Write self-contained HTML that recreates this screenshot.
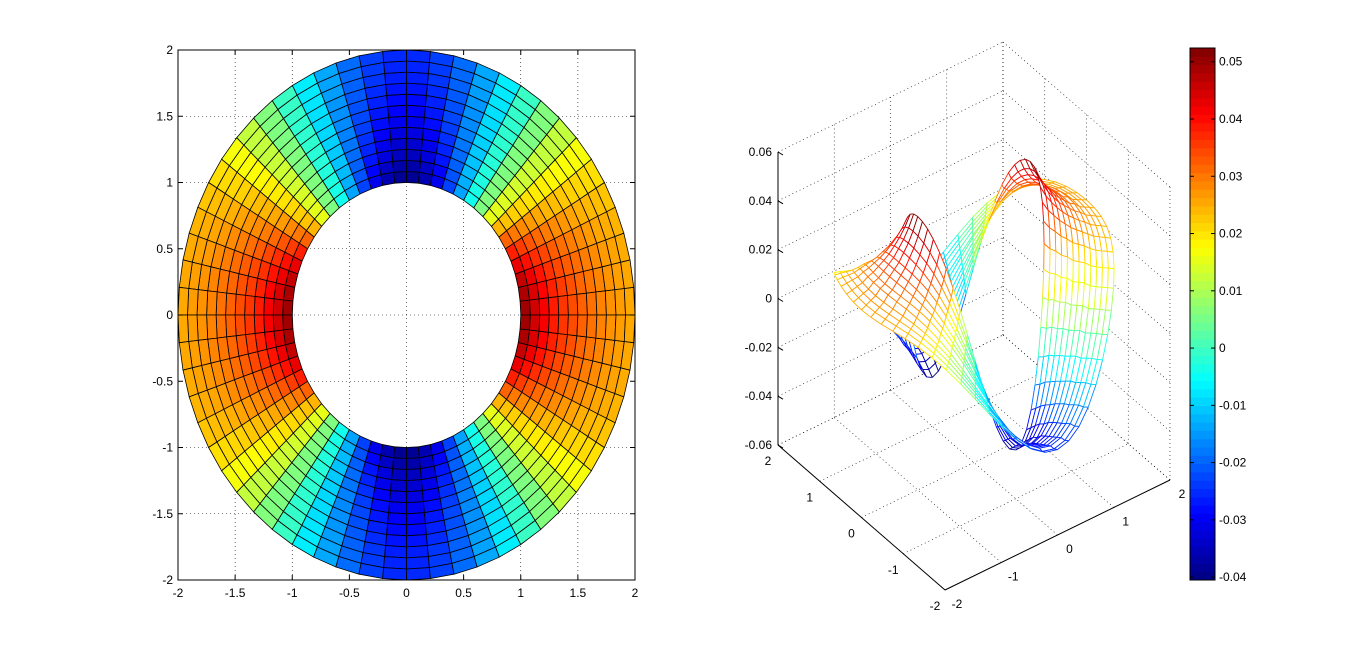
<!DOCTYPE html>
<html><head><meta charset="utf-8"><style>
html,body{margin:0;padding:0;background:#fff;}
svg{display:block;font-family:"Liberation Sans",sans-serif;font-size:12px;}
</style></head><body>
<svg id="fig" width="1367" height="652" viewBox="0 0 1367 652">
<rect width="1367" height="652" fill="#fff"/>
<g id="left"></g>
<g id="right"></g>
<g id="cbar"></g>
</svg>
<script>
// ring radii values (r from 1 to 2), field sampled at angle 0, 45, 90 deg
const radii = [1,1.0833,1.1667,1.25,1.3333,1.4167,1.5,1.5833,1.6667,1.75,1.8333,1.9167,2];
const val0  = [0.052,0.047,0.043,0.040,0.037,0.035,0.033,0.031,0.030,0.028,0.027,0.026,0.025];
const val45 = [0.016,0.015,0.015,0.014,0.014,0.013,0.013,0.013,0.012,0.012,0.012,0.012,0.012];
const val90 = [-0.040,-0.038,-0.036,-0.034,-0.033,-0.031,-0.030,-0.029,-0.028,-0.027,-0.026,-0.026,-0.025];
const nTheta = 60;
const axTicks = [-2,-1.5,-1,-0.5,0,0.5,1,1.5,2];
const axTickLabels = ["-2","-1.5","-1","-0.5","0","0.5","1","1.5","2"];
const xyTicks3 = [-2,-1,0,1,2];
const zTicks3 = [-0.06,-0.04,-0.02,0,0.02,0.04,0.06];
const zTickLabels3 = ["-0.06","-0.04","-0.02","0","0.02","0.04","0.06"];
const cbTicks = [-0.04,-0.03,-0.02,-0.01,0,0.01,0.02,0.03,0.04,0.05];
const cbTickLabels = ["-0.04","-0.03","-0.02","-0.01","0","0.01","0.02","0.03","0.04","0.05"];
const cMin = -0.0405, cMax = 0.0524;

const NS="http://www.w3.org/2000/svg";
function mk(parent,tag,attrs){const e=document.createElementNS(NS,tag);for(const k in attrs)e.setAttribute(k,attrs[k]);parent.appendChild(e);return e;}
function clamp(v){return Math.max(0,Math.min(1,v));}
function jet(v){let t=clamp((v-cMin)/(cMax-cMin));
 const r=clamp(1.5-Math.abs(4*t-3)),g=clamp(1.5-Math.abs(4*t-2)),b=clamp(1.5-Math.abs(4*t-1));
 return `rgb(${Math.round(r*255)},${Math.round(g*255)},${Math.round(b*255)})`;}
function field(i,th){const v0=val0[i],v45=val45[i],v90=val90[i];
 const b=(v0-v90)/2,s=(v0+v90)/2,a=(s+v45)/2,c=(s-v45)/2;
 return a+b*Math.cos(2*th)+c*Math.cos(4*th);}

// ---------- left plot ----------
const L=document.getElementById('left');
const X0=178,X1=635,Y0=50,Y1=580;
const sx=v=>X0+(v+2)/4*(X1-X0), sy=v=>Y1-(v+2)/4*(Y1-Y0);
axTicks.forEach((t,k)=>{
 if(k>0&&k<axTicks.length-1){
 let g=mk(L,'line',{x1:sx(t),y1:Y0,x2:sx(t),y2:Y1,stroke:'#000','stroke-width':0.6,'stroke-dasharray':'1,3'});
 
 g=mk(L,'line',{x1:X0,y1:sy(t),x2:X1,y2:sy(t),stroke:'#000','stroke-width':0.6,'stroke-dasharray':'1,3'});
 }
});
const cells=mk(L,'g',{});

for(let i=0;i<radii.length-1;i++){for(let j=0;j<nTheta;j++){
 const t0=j/nTheta*2*Math.PI,t1=(j+1)/nTheta*2*Math.PI,r0=radii[i],r1=radii[i+1];
 const pts=[[r0,t0],[r1,t0],[r1,t1],[r0,t1]].map(p=>sx(p[0]*Math.cos(p[1])).toFixed(1)+','+sy(p[0]*Math.sin(p[1])).toFixed(1)).join(' ');
 const v=(field(i,(t0+t1)/2)+field(i+1,(t0+t1)/2))/2;
 const p=mk(cells,'polygon',{points:pts,fill:jet(v),stroke:'#000','stroke-width':0.8});
 
}}
let box=mk(L,'rect',{x:X0,y:Y0,width:X1-X0,height:Y1-Y0,fill:'none',stroke:'#000','stroke-width':1});

axTicks.forEach((t,k)=>{
 mk(L,'line',{x1:sx(t),y1:Y1,x2:sx(t),y2:Y1-5,stroke:'#000'});
 mk(L,'line',{x1:sx(t),y1:Y0,x2:sx(t),y2:Y0+5,stroke:'#000'});
 mk(L,'line',{x1:X0,y1:sy(t),x2:X0+5,y2:sy(t),stroke:'#000'});
 mk(L,'line',{x1:X1,y1:sy(t),x2:X1-5,y2:sy(t),stroke:'#000'});
 let tx=mk(L,'text',{x:sx(t),y:Y1+17,'text-anchor':'middle'});tx.textContent=axTickLabels[k];
 
 let ty=mk(L,'text',{x:X0-5,y:sy(t)+4,'text-anchor':'end'});ty.textContent=axTickLabels[k];
 
});

// ---------- right 3D plot ----------
const R=document.getElementById('right');
const OX=974,OY=316,EX=[56.25,-27.5],EY=[-41.75,-36.25],EZ=-2441.7;
function P(x,y,z){return [OX+x*EX[0]+y*EY[0], OY+x*EX[1]+y*EY[1]+z*EZ];}
function depth(x,y,z){return 0.866*(27.5*x+36.25*y)/0.5 - 0.5*(-z*EZ);}
function line3(a,b,attrs,name){const p=P(...a),q=P(...b);
 const l=mk(R,'line',Object.assign({x1:p[0],y1:p[1],x2:q[0],y2:q[1],stroke:'#000'},attrs));
 return l;}
const dot={'stroke-width':0.6,'stroke-dasharray':'1,3'};
const zlo=-0.06,zhi=0.06;
xyTicks3.forEach(t=>{
 line3([t,2,zlo],[t,2,zhi],dot,'grid-x-wall');
 line3([t,-2,zlo],[t,2,zlo],dot,'grid-x-floor');
 line3([2,t,zlo],[2,t,zhi],dot,'grid-y-wall');
 line3([-2,t,zlo],[2,t,zlo],dot,'grid-y-floor');
});
zTicks3.forEach(z=>{
 line3([-2,2,z],[2,2,z],dot,'grid-z-wall');
 line3([2,2,z],[2,-2,z],dot,'grid-z-wall');
});
line3([-2,2,zlo],[-2,2,zhi],{},'z-axis-line');
line3([-2,2,zlo],[-2,-2,zlo],{},'y-axis-line');
line3([-2,-2,zlo],[2,-2,zlo],{},'x-axis-line');
// mesh
const quads=[];
for(let i=0;i<radii.length-1;i++){for(let j=0;j<nTheta;j++){
 const t0=j/nTheta*2*Math.PI,t1=(j+1)/nTheta*2*Math.PI,r0=radii[i],r1=radii[i+1];
 const vs=[[i,r0,t0],[i+1,r1,t0],[i+1,r1,t1],[i,r0,t1]].map(q=>{const z=field(q[0],q[2]);return [q[1]*Math.cos(q[2]),q[1]*Math.sin(q[2]),z];});
 const d=vs.reduce((s,v)=>s+depth(...v),0)/4;
 quads.push({vs,d});
}}
quads.sort((a,b)=>b.d-a.d);
const mg=mk(R,'g',{});

quads.forEach(q=>{
 const pts=q.vs.map(v=>P(...v));
 const poly=mk(mg,'polygon',{points:pts.map(p=>p[0].toFixed(1)+','+p[1].toFixed(1)).join(' '),fill:'#fff',stroke:'none'});
 
 for(let k=0;k<4;k++){const a=pts[k],b=pts[(k+1)%4];
  const e=mk(mg,'line',{x1:a[0],y1:a[1],x2:b[0],y2:b[1],stroke:jet(q.vs[k][2]),'stroke-width':0.9});
  }
});
zTicks3.forEach((z,k)=>{const p=P(-2,2,z);
 mk(R,'line',{x1:p[0],y1:p[1],x2:p[0]+5,y2:p[1]+3,stroke:'#000'});
 const t=mk(R,'text',{x:p[0]-6,y:p[1]+4,'text-anchor':'end'});t.textContent=zTickLabels3[k];
 });
xyTicks3.forEach(v=>{
 let p=P(-2,v,zlo);
 let t=mk(R,'text',{x:p[0]-10,y:p[1]+20,'text-anchor':'middle'});t.textContent=String(v);
 
 p=P(v,-2,zlo);
 t=mk(R,'text',{x:p[0]+12,y:p[1]+18,'text-anchor':'middle'});t.textContent=String(v);
 
});

// ---------- colorbar ----------
const C=document.getElementById('cbar');
const CX=1190,CW=25,CY0=48,CY1=580;
const cy=v=>CY1-(v-cMin)/(cMax-cMin)*(CY1-CY0);
const nSteps=64;
for(let k=0;k<nSteps;k++){const v0=cMin+(cMax-cMin)*k/nSteps,v1=cMin+(cMax-cMin)*(k+1)/nSteps;
 const r=mk(C,'rect',{x:CX,y:cy(v1),width:CW,height:cy(v0)-cy(v1)+0.5,fill:jet((v0+v1)/2)});
 }
const cb=mk(C,'rect',{x:CX,y:CY0,width:CW,height:CY1-CY0,fill:'none',stroke:'#000'});

cbTicks.forEach((v,k)=>{const y=cy(v);
 mk(C,'line',{x1:CX,y1:y,x2:CX+4,y2:y,stroke:'#000'});
 mk(C,'line',{x1:CX+CW,y1:y,x2:CX+CW-4,y2:y,stroke:'#000'});
 const t=mk(C,'text',{x:CX+CW+4,y:y+4});t.textContent=cbTickLabels[k];
 });
</script>
</body></html>
